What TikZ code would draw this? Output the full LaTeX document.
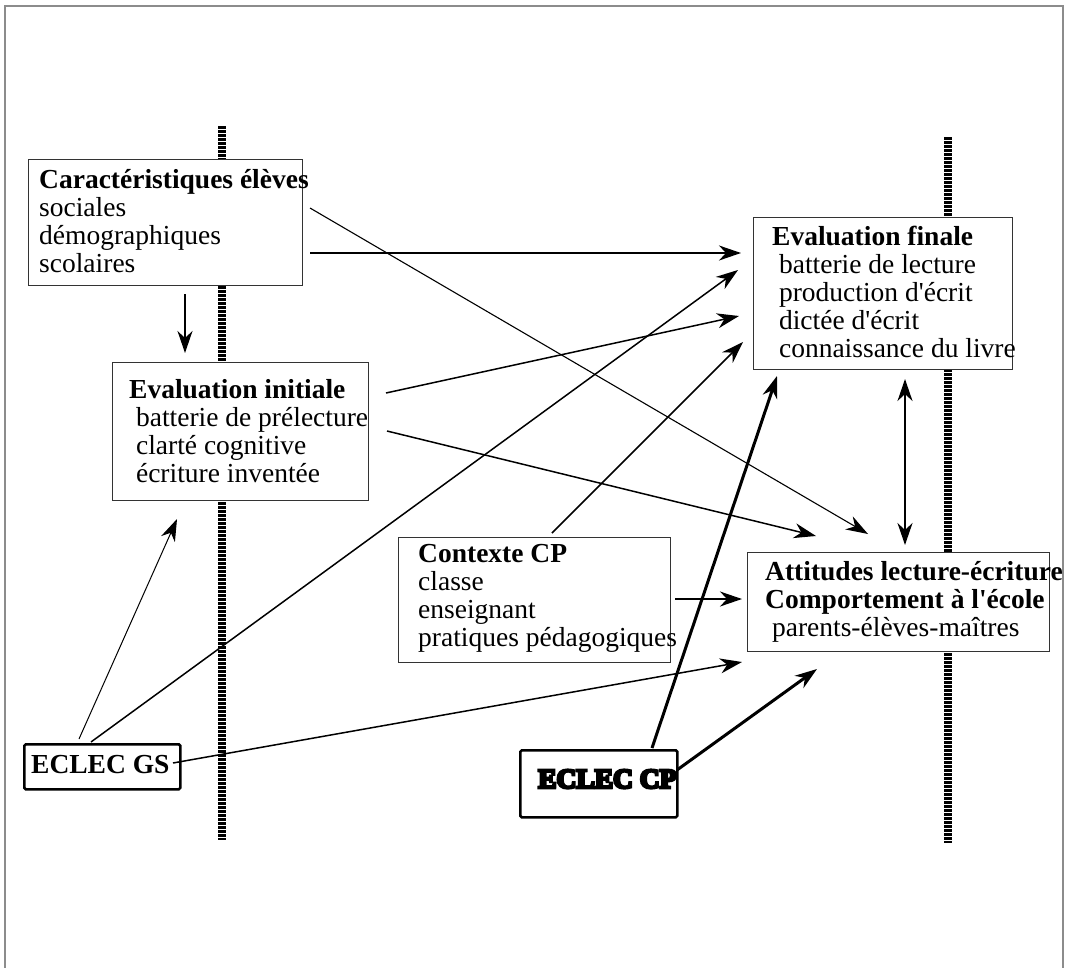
\documentclass[tikz,border=0pt]{standalone}
\usepackage{fontspec}
\setmainfont{Liberation Serif}
\newfontfamily\heavyfont[FakeBold=10]{Liberation Serif Bold}
\usetikzlibrary{arrows.meta}
\tikzset{
  frameline/.style={draw=black!45, line width=1.6},
  bar/.style={line width=8bp, dash pattern=on 2.5bp off 1.5bp},
  box/.style={draw=black!80, line width=1.2bp, fill=white, inner sep=0pt, anchor=north west},
  ebox/.style={draw=black, line width=2.6bp, rounded corners=1.5bp, fill=white, inner sep=0pt, anchor=north west},
  txt/.style={anchor=base west, inner sep=0pt, font=\fontsize{27.6}{28.3}\selectfont},
  conn/.style={-{Stealth[length=22bp,width=15bp,inset=7bp]}, line width=1.5bp},
  thin/.style={line width=1.1bp},
  thick/.style={line width=3bp},
  twoway/.style={{Stealth[length=22bp,width=15bp,inset=7bp]}-{Stealth[length=22bp,width=15bp,inset=7bp]}, line width=2bp}
}
\newcommand{\lines}[1]{\begin{tabular}[t]{@{}l@{}}#1\end{tabular}}
\newcommand{\ap}{\textquotesingle}
\begin{document}
\begin{tikzpicture}[x=1bp,y=-1bp]
\useasboundingbox (0,0) rectangle (1066,968);
% outer frame
\draw[frameline] (5,968) -- (5,6) -- (1063,6) -- (1063,968);
% time bars
\draw[bar] (222,126) -- (222,840);
\draw[bar] (948,137) -- (948,843);
% boxes
\node[box, minimum width=274bp, minimum height=126bp] (car) at (28,159) {};
\node[box, minimum width=256bp, minimum height=138bp] (ini) at (112,362) {};
\node[box, minimum width=259bp, minimum height=152bp] (fin) at (753,217) {};
\node[box, minimum width=302bp, minimum height=99bp] (att) at (747,552) {};
\node[box, minimum width=272bp, minimum height=125bp] (ctx) at (398,537) {};
\node[ebox, minimum width=156bp, minimum height=45bp] (gs) at (23,743) {};
\node[ebox, minimum width=157bp, minimum height=67bp] (cp) at (519,749) {};
% texts
\node[txt] (carT) at (39,188) {\lines{\textbf{Caractéristiques élèves}\\sociales\\démographiques\\scolaires}};
\node[txt] (iniT) at (129,398) {\lines{\textbf{Evaluation initiale}\\\ batterie de prélecture\\\ clarté cognitive\\\ écriture inventée}};
\node[txt] (finT) at (772,245) {\lines{\textbf{Evaluation finale}\\\ batterie de lecture\\\ production d\ap écrit\\\ dictée d\ap écrit\\\ connaissance du livre}};
\node[txt] (attT) at (765,580) {\lines{\textbf{Attitudes lecture-écriture}\\\textbf{Comportement à l\ap école}\\\ parents-élèves-maîtres}};
\node[txt] (ctxT) at (418,562) {\lines{\textbf{Contexte CP}\\classe\\enseignant\\pratiques pédagogiques}};
\node[txt] (gsT) at (31,773) {\textbf{ECLEC GS}};
\node[txt] (cpT) at (538,788) {\heavyfont ECLEC CP};
% connector ends
\coordinate (a1) at (185,294);  \coordinate (b1) at (185,353);
\coordinate (a2) at (310,253);  \coordinate (b2) at (741,253);
\coordinate (a3) at (310,208);  \coordinate (b3) at (868,534);
\coordinate (a4) at (386,393);  \coordinate (b4) at (739,316);
\coordinate (a5) at (387,431);  \coordinate (b5) at (816,536);
\coordinate (a6) at (79,739);   \coordinate (b6) at (177,519);
\coordinate (a7) at (91,742);   \coordinate (b7) at (738,270);
\coordinate (a8) at (173,763);  \coordinate (b8) at (742,662);
\coordinate (a9) at (552,533);  \coordinate (b9) at (743,342);
\coordinate (a10) at (675,599); \coordinate (b10) at (742,599);
\coordinate (a11) at (652,748); \coordinate (b11) at (777,376);
\coordinate (a12) at (677,770); \coordinate (b12) at (817,669);
\coordinate (a13) at (905,379); \coordinate (b13) at (905,545);
% connectors
\draw[conn] (a1) -- (b1);
\draw[conn, line width=2bp] (a2) -- (b2);
\draw[conn, thin] (a3) -- (b3);
\draw[conn] (a4) -- (b4);
\draw[conn] (a5) -- (b5);
\draw[conn, line width=1bp] (a6) -- (b6);
\draw[conn] (a7) -- (b7);
\draw[conn] (a8) -- (b8);
\draw[conn] (a9) -- (b9);
\draw[conn, line width=2bp] (a10) -- (b10);
\draw[conn, thick] (a11) -- (b11);
\draw[conn, thick] (a12) -- (b12);
\draw[twoway] (a13) -- (b13);
\end{tikzpicture}
\end{document}
